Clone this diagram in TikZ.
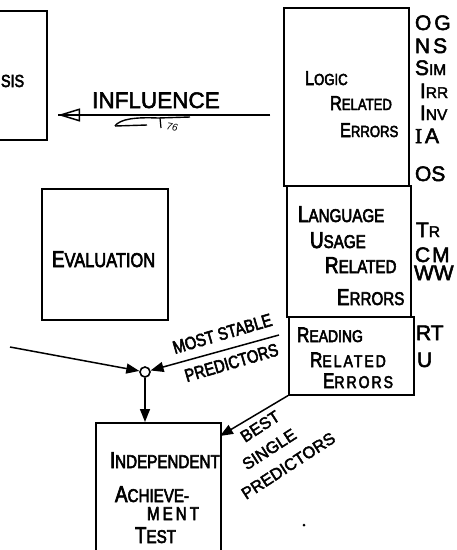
\documentclass[tikz,border=0pt]{standalone}
\usepackage{fontspec}
\setmainfont{Liberation Sans}
\newfontfamily\lab[FakeStretch=0.82, FakeBold=3]{Liberation Sans}
\newfontfamily\codef[FakeBold=2.5]{Liberation Sans}
\newfontfamily\serifI[FakeBold=2.5]{Liberation Serif}
\usetikzlibrary{arrows.meta}
% big first letter + smaller capitals
\newcommand\SCx[4]{{\fontsize{#3}{#3}\selectfont #1}{\fontsize{#4}{#4}\selectfont #2}}
\begin{document}
\begin{tikzpicture}[x=1pt,y=-1pt,
  box/.style={draw, line width=1.6pt, inner sep=0pt, anchor=north west},
  lbl/.style={anchor=base west, inner sep=0pt, outer sep=0pt, font=\lab},
  code/.style={anchor=base west, inner sep=0pt, outer sep=0pt, font=\codef\fontsize{21}{21}\selectfont},
  conn/.style={line width=1.5pt, -{Triangle[length=13pt,width=10pt]}},
  ]
\useasboundingbox (0,0) rectangle (457,550);
\clip (0,0) rectangle (457,550);
% boxes
\node[box, minimum width=66pt, minimum height=129pt] (sis) at (-20,10) {};
\node[box, minimum width=125pt, minimum height=178pt] (logic) at (283,7) {};
\node[box, minimum width=124pt, minimum height=131pt] (language) at (286,185) {};
\node[box, minimum width=125pt, minimum height=78pt] (reading) at (288,316) {};
\node[box, minimum width=126pt, minimum height=131pt] (eval) at (41,188) {};
\node[box, minimum width=125pt, minimum height=160pt] (indep) at (95,422) {};
% box texts
\node[lbl, font=\lab\fontsize{17.5}{17.5}\selectfont] (sist) at (1,87) {SIS};
\node[lbl] (lg1) at (305,85) {\SCx{L}{OGIC}{20}{16}};
\node[lbl] (lg2) at (330,110) {\SCx{R}{ELATED}{20}{16}};
\node[lbl] (lg3) at (340,137) {\SCx{E}{RRORS}{20}{16}};
\node[lbl] (la1) at (298,222) {\SCx{L}{ANGUAGE}{23}{18.5}};
\node[lbl] (la2) at (310,248) {\SCx{U}{SAGE}{23}{18.5}};
\node[lbl] (la3) at (325,273) {\SCx{R}{ELATED}{23}{18.5}};
\node[lbl] (la4) at (337,305) {\SCx{E}{RRORS}{23}{18.5}};
\node[lbl] (re1) at (297,342) {\SCx{R}{EADING}{21}{17}};
\node[lbl] (re2) at (310,367) {\addfontfeature{LetterSpace=12}\SCx{R}{ELATED}{21}{17}};
\node[lbl] (re3) at (323,388) {\addfontfeature{LetterSpace=12}\SCx{E}{RRORS}{21}{17}};
\node[lbl] (evt) at (52,267) {\SCx{E}{VALUATION}{23}{20}};
\node[lbl] (in1) at (110,468) {\SCx{I}{NDEPENDENT}{23}{18.5}};
\node[lbl] (in2) at (115,502) {\SCx{A}{CHIEVE-}{23}{18.5}};
\node[lbl] (in3) at (147,520) {\SCx{}{M\hspace{3pt}E\hspace{3pt}N\hspace{3pt}T}{23}{18.5}};
\node[lbl] (in4) at (135,543) {\SCx{T}{EST}{23}{18.5}};
% codes
\node[code] (c1) at (415,30) {O\hspace{3pt}G};
\node[code] (c2) at (415,53) {N\hspace{3pt}S};
\node[code] (c3) at (415,75) {\SCx{S}{IM}{21}{15.5}};
\node[code] (c4) at (420,98) {\SCx{I}{RR}{21}{15.5}};
\node[code] (c5) at (420,120) {\SCx{I}{NV}{21}{15.5}};
\node[code] (c6) at (415,143) {{\serifI I}\hspace{3pt}A};
\node[code] (c7) at (415,181) {OS};
\node[code] (c8) at (416,237) {\SCx{T}{R}{21}{15.5}};
\node[code] (c9) at (415,262) {C\hspace{2pt}M};
\node[code] (c10) at (414,280) {WW};
\node[code] (c11) at (416,340) {RT};
\node[code] (c12) at (417,367) {U};
% influence arrow
\coordinate (inflS) at (270,115);
\coordinate (inflE) at (58,115);
\draw[line width=1.5pt, -{Triangle[open,length=22pt,width=13pt]}] (inflS) -- (inflE);
\draw[line width=1.5pt] (inflS) -- (inflE);
\node[anchor=base west, inner sep=0pt, font=\codef\fontsize{22.5}{22.5}\selectfont] (infl) at (92,108) {INFLUENCE};
% signature scribble
\draw[line width=1.4pt] (115,126) .. controls (120,119) and (135,117) .. (158,118) -- (190,117);
\draw[line width=1.4pt] (115,126) -- (147,125);
\draw[line width=1.2pt] (160,118) -- (161,128);
\node[anchor=base west, inner sep=0pt, font=\itshape\fontsize{10}{10}\selectfont, rotate=-10] (sig) at (166,129) {76};
% junction and connectors
\node[circle, draw, line width=1.6pt, minimum size=10pt, inner sep=0pt] (junc) at (145,372) {};
\coordinate (leftS) at (10,347);
\coordinate (msS) at (279,335);
\coordinate (bestE) at (220,436);
\draw[conn] (leftS) -- (junc);
\draw[conn] (msS) -- (junc);
\draw[conn] (junc) -- (junc |- indep.north);
\draw[conn] (reading.south west) -- (bestE);
% slanted labels (base west = baseline of the last line)
\node[lbl, align=left, rotate=16.3, font=\lab\fontsize{18}{30.3}\selectfont] (ms) at (183.5,383.1)
  {MOST STABLE\\\hspace*{3.6pt}PREDICTORS};
\node[anchor=base west, inner sep=0pt, align=left, rotate=33, font=\codef\fontsize{16.5}{24.2}\selectfont] (bs) at (246,500)
  {\hspace*{30.2pt}BEST\\\hspace*{16.6pt}SINGLE\\PREDICTORS};
% stray dot
\node[circle, fill, inner sep=0pt, minimum size=3pt] (dot) at (304,525) {};
\end{tikzpicture}
\end{document}
